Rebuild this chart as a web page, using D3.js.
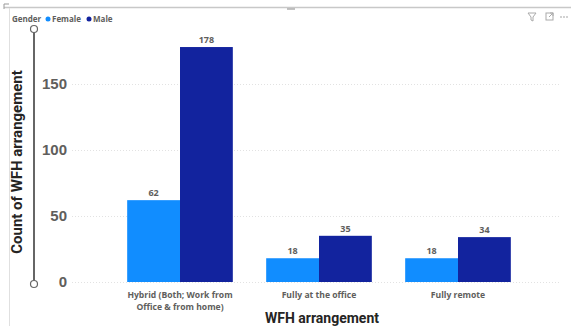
<!DOCTYPE html>
<html>
<head>
<meta charset="utf-8">
<script src="https://cdn.jsdelivr.net/npm/d3@7"></script>
<style>
  body { margin: 0; background: #fff; }
  svg { display: block; font-family: "Open Sans", "Segoe UI", sans-serif; }
</style>
</head>
<body>
<script>
const categories = ["Hybrid (Both; Work from Office & from home)", "Fully at the office", "Fully remote"]
const catLines = [["Hybrid (Both; Work from", "Office & from home)"], ["Fully at the office"], ["Fully remote"]]
const genders = ["Female", "Male"]
const female = [62, 18, 18]
const male = [178, 35, 34]
const yTicks = [0, 50, 100, 150]
const colors = ["#118DFF", "#12239E"]

const width = 571, height = 326
const svg = d3.select("body").append("svg").attr("width", width).attr("height", height)

// frame
svg.append("line").attr("x1", 4).attr("x2", width).attr("y1", 7.5).attr("y2", 7.5).attr("stroke", "#c8c8c8").attr("stroke-width", 1.5)
svg.append("line").attr("x1", 9.5).attr("x2", 9.5).attr("y1", 8).attr("y2", height).attr("stroke", "#e0e0e0")
svg.append("path").attr("d", "M4,9V4H9").attr("fill", "none").attr("stroke", "#999")
svg.append("line").attr("x1", 287).attr("x2", 295).attr("y1", 9).attr("y2", 9).attr("stroke", "#888")

const x0 = d3.scaleBand().domain(categories).range([110.5, 527.5]).paddingInner(0.24).paddingOuter(0.12)
const x1 = d3.scaleBand().domain(genders).range([0, x0.bandwidth()])
const y = d3.scaleLinear().domain([0, 150]).range([282, 84])

// gridlines
svg.append("g").selectAll("line").data(yTicks).join("line")
  .attr("x1", 72).attr("x2", 560)
  .attr("y1", d => Math.round(y(d)) + 0.5).attr("y2", d => Math.round(y(d)) + 0.5)
  .attr("stroke", "#e2e2e2").attr("stroke-dasharray", "1,2")

// y axis
const yAxis = svg.append("g").attr("transform", "translate(72,0)")
  .call(d3.axisLeft(y).tickValues(yTicks).tickSize(0).tickPadding(5))
yAxis.select(".domain").remove()
yAxis.selectAll("text").attr("font-size", 15).attr("font-weight", 700).attr("fill", "#605e5c")

// slider on y axis
svg.append("line").attr("x1", 34).attr("x2", 34).attr("y1", 32).attr("y2", 282).attr("stroke", "#666").attr("stroke-width", 2)
svg.selectAll("circle.h").data([29, 284]).join("circle").attr("class", "h")
  .attr("cx", 34).attr("cy", d => d).attr("r", 3.5).attr("fill", "#fff").attr("stroke", "#666").attr("stroke-width", 1.2)

svg.append("text").attr("transform", "translate(22,162) rotate(-90)")
  .attr("text-anchor", "middle").attr("font-family", "Roboto, sans-serif")
  .attr("font-size", 15).attr("font-weight", 700).attr("fill", "#252423")
  .text("Count of WFH arrangement")

// bars
const rows = categories.map((c, i) => ({ c, vals: [female[i], male[i]] }))
const groups = svg.append("g").selectAll("g").data(rows).join("g")
  .attr("transform", d => `translate(${x0(d.c)},0)`)
groups.selectAll("rect").data(d => d.vals.map((v, j) => ({ g: genders[j], v, j }))).join("rect")
  .attr("x", d => x1(d.g)).attr("width", x1.bandwidth())
  .attr("y", d => y(d.v)).attr("height", d => y(0) - y(d.v))
  .attr("fill", d => colors[d.j])
groups.selectAll("text").data(d => d.vals.map((v, j) => ({ g: genders[j], v }))).join("text")
  .attr("x", d => x1(d.g) + x1.bandwidth() / 2).attr("y", d => y(d.v) - 4)
  .attr("text-anchor", "middle").attr("font-size", 9).attr("font-weight", 700).attr("fill", "#605e5c")
  .text(d => d.v)

// x labels
const xl = svg.append("g").selectAll("text").data(categories).join("text")
  .attr("x", d => x0(d) + x0.bandwidth() / 2).attr("y", 298)
  .attr("text-anchor", "middle").attr("font-size", 8.6).attr("font-weight", 700).attr("fill", "#605e5c")
xl.selectAll("tspan").data((d, i) => catLines[i]).join("tspan")
  .attr("x", function() { return this.parentNode.getAttribute("x") })
  .attr("dy", (d, i) => i ? 12 : 0).text(d => d)

svg.append("text").attr("x", 322).attr("y", 323).attr("text-anchor", "middle")
  .attr("font-family", "Roboto, sans-serif")
  .attr("font-size", 14).attr("font-weight", 700).attr("fill", "#252423").text("WFH arrangement")

// legend
const lg = svg.append("g").attr("font-size", 8).attr("font-weight", 700).attr("fill", "#605e5c")
lg.append("text").attr("x", 12).attr("y", 22).text("Gender")
const legX = [48, 89]
genders.forEach((g, i) => {
  lg.append("circle").attr("cx", legX[i]).attr("cy", 19).attr("r", 2.5).attr("fill", colors[i])
  lg.append("text").attr("x", legX[i] + 4).attr("y", 22).text(g)
})

// header icons
const ic = svg.append("g").attr("stroke", "#aaa").attr("fill", "none")
ic.append("path").attr("d", "M528,13H536L533,17V21L531,20V17Z")
ic.append("rect").attr("x", 546).attr("y", 13).attr("width", 7).attr("height", 7)
ic.append("path").attr("d", "M549,17L553,13M550,13H553V16")
svg.selectAll("circle.dot").data([561, 564, 567]).join("circle").attr("class", "dot")
  .attr("cx", d => d).attr("cy", 17).attr("r", 0.8).attr("fill", "#999")
</script>
</body>
</html>
